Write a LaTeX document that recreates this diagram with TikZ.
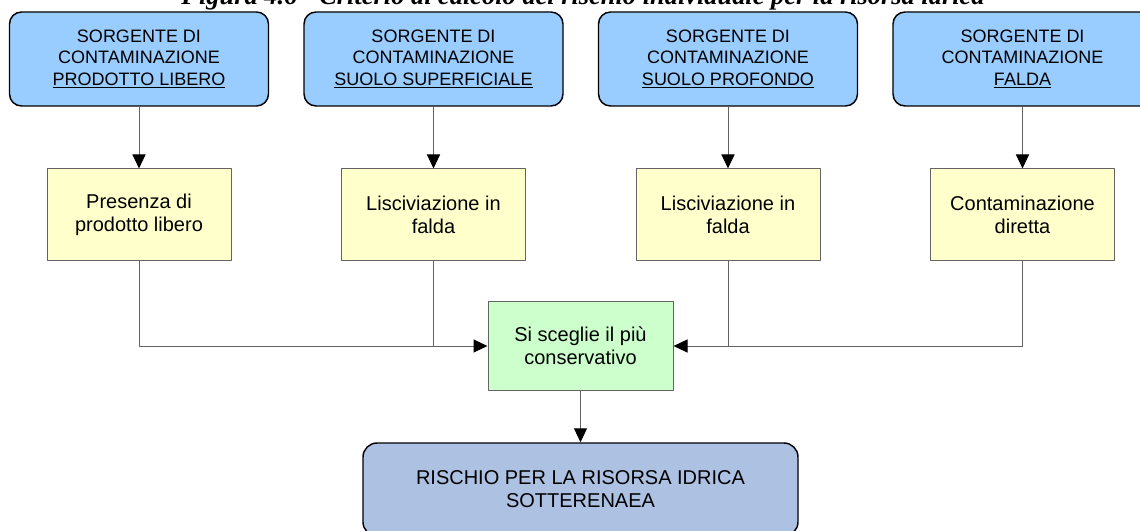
\documentclass[tikz,border=0pt]{standalone}
\usepackage{fontspec}
\setmainfont{Liberation Sans}
\newfontfamily\capfont{Liberation Serif}
\usetikzlibrary{arrows.meta}
\definecolor{srcblue}{RGB}{153,204,255}
\definecolor{effyellow}{RGB}{255,255,204}
\definecolor{selgreen}{RGB}{204,255,204}
\definecolor{riskblue}{RGB}{173,193,227}
\definecolor{linegray}{RGB}{100,100,100}
\begin{document}
\begin{tikzpicture}[x=0.75pt,y=-0.75pt,>={Triangle[length=10.5pt,width=9.75pt,black]},line join=round,
    src/.style={draw=black,line width=1.1pt,fill=srcblue,rounded corners=9pt,minimum width=194.25pt,minimum height=70.5pt,align=center,font=\fontsize{13.5}{16.3}\selectfont},
    eff/.style={draw=linegray,line width=0.75pt,fill=effyellow,minimum width=138pt,minimum height=69pt,align=center,font=\fontsize{15}{17.25}\selectfont},
    link/.style={draw=linegray,line width=0.75pt}]
    \useasboundingbox (0,0) rectangle (1140,531);
    \node[anchor=base,font=\capfont\bfseries\itshape\fontsize{19.8}{22}\selectfont] (cap) at (583,5) {Figura 4.6 - Criterio di calcolo del rischio individuale per la risorsa idrica};
    % sorgenti
    \node[src] (src1) at (139,59) {SORGENTE DI\\CONTAMINAZIONE\\\underline{PRODOTTO LIBERO}};
    \node[src] (src2) at (433.5,59) {SORGENTE DI\\CONTAMINAZIONE\\\underline{SUOLO SUPERFICIALE}};
    \node[src] (src3) at (728,59) {SORGENTE DI\\CONTAMINAZIONE\\\underline{SUOLO PROFONDO}};
    \node[src] (src4) at (1022.5,59) {SORGENTE DI\\CONTAMINAZIONE\\\underline{FALDA}};
    % percorsi
    \node[eff] (eff1) at (139,215) {Presenza di\\prodotto libero};
    \node[eff] (eff2) at (433.5,215) {Lisciviazione in\\falda};
    \node[eff] (eff3) at (728,215) {Lisciviazione in\\falda};
    \node[eff] (eff4) at (1022.5,215) {Contaminazione\\diretta};
    \node[eff,fill=selgreen,minimum width=138.75pt,minimum height=66pt] (scelta) at (580.5,346) {Si sceglie il pi\`u\\conservativo};
    \node[eff,draw=black,line width=1.1pt,fill=riskblue,rounded corners=10.5pt,minimum width=326.25pt,minimum height=69.75pt] (rischio) at (580.5,489.5) {RISCHIO PER LA RISORSA IDRICA\\SOTTERENAEA};
    \foreach \i in {1,2,3,4}
    \draw[link,->] (src\i) -- (eff\i);
    \draw[link,->] (eff1) |- (scelta);
    \draw[link] (eff2) -- (eff2 |- scelta);
    \draw[link,->] (eff4) |- (scelta);
    \draw[link] (eff3) -- (eff3 |- scelta);
    \draw[link,->] (scelta) -- (rischio);
\end{tikzpicture}
\end{document}
